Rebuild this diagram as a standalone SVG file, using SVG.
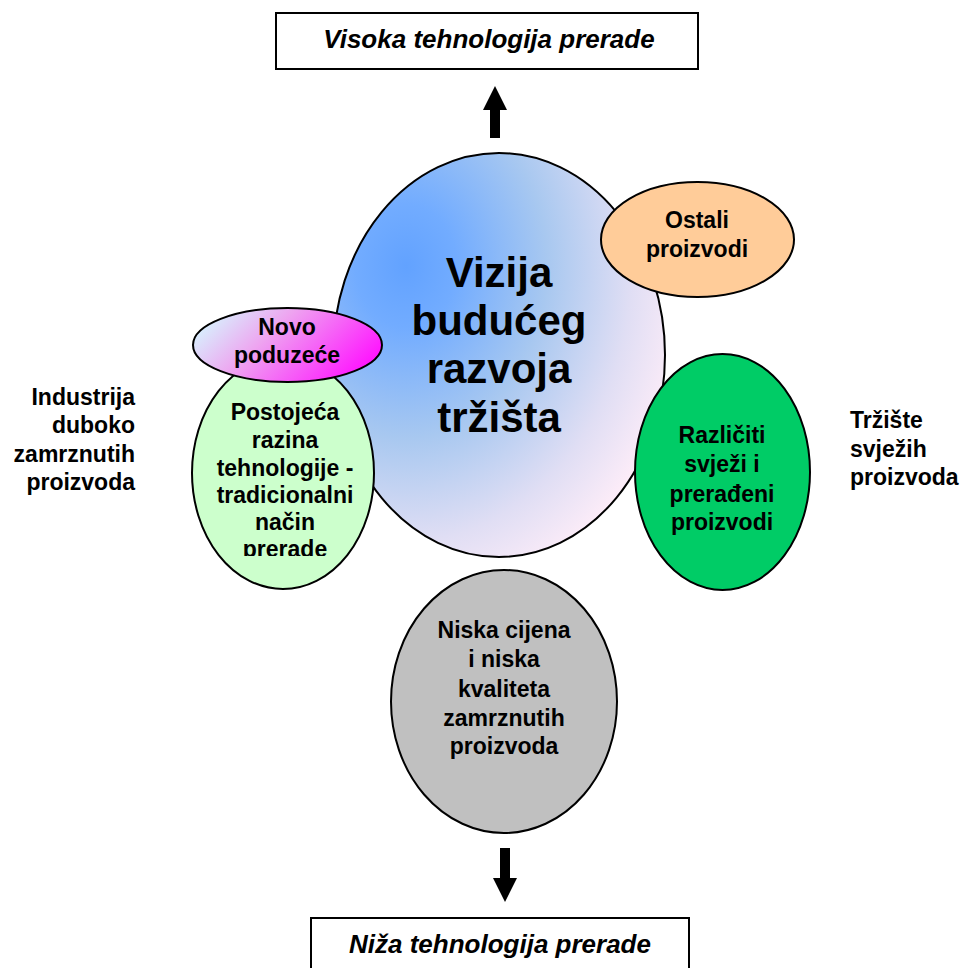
<svg xmlns="http://www.w3.org/2000/svg" width="966" height="968" viewBox="0 0 966 968">
<style>
.t{font-family:"Liberation Sans",Arial,sans-serif;font-weight:bold;font-size:23px;fill:#000;text-anchor:middle}
.big{font-size:42px}
.box{font-size:26px;font-style:italic}
.l{text-anchor:start}
.r{text-anchor:end}
.sh{stroke:#000;stroke-width:2}
</style>
<defs>
<radialGradient id="gC" cx="0.22" cy="0.28" r="0.85" fx="0.22" fy="0.28">
<stop offset="0" stop-color="#62a2ff"/>
<stop offset="0.18" stop-color="#72acff"/>
<stop offset="0.5" stop-color="#a8c8f0"/>
<stop offset="0.8" stop-color="#e0def4"/>
<stop offset="1" stop-color="#fcecf8"/>
</radialGradient>
<linearGradient id="gN" x1="0" y1="0.2" x2="1" y2="0.6">
<stop offset="0" stop-color="#d4fbff"/>
<stop offset="0.4" stop-color="#eea4f0"/>
<stop offset="1" stop-color="#ff14ff"/>
</linearGradient>
<clipPath id="cP"><rect x="190" y="380" width="190" height="176"/></clipPath>
</defs>
<g id="top-box">
<rect x="276" y="13" width="422" height="56" fill="#fff" class="sh"/>
<text class="t box" x="489" y="48">Visoka tehnologija prerade</text>
</g>
<g id="bottom-box">
<rect x="311" y="918" width="378" height="60" fill="#fff" class="sh"/>
<text class="t box" x="500" y="953">Niža tehnologija prerade</text>
</g>
<g id="connectors">
<polygon points="495,86 507,110 500,110 500,138 490,138 490,110 483,110" fill="#000"/>
<polygon points="505,902 517,878 510,878 510,848 500,848 500,878 493,878" fill="#000"/>
</g>
<g id="vizija">
<ellipse cx="499" cy="355" rx="166" ry="202" fill="url(#gC)" class="sh"/>
<text class="t big" x="499" y="287">Vizija</text>
<text class="t big" x="499" y="335">budućeg</text>
<text class="t big" x="499" y="383">razvoja</text>
<text class="t big" x="499" y="432">tržišta</text>
</g>
<g id="postojeca">
<ellipse cx="283" cy="473" rx="91" ry="116" fill="#ccffcc" class="sh"/>
<g clip-path="url(#cP)">
<text class="t" x="285" y="420">Postojeća</text>
<text class="t" x="285" y="448">razina</text>
<text class="t" x="285" y="476">tehnologije -</text>
<text class="t" x="285" y="503">tradicionalni</text>
<text class="t" x="285" y="530">način</text>
<text class="t" x="285" y="557">prerade</text>
</g>
</g>
<g id="novo">
<ellipse cx="287.5" cy="345" rx="94.5" ry="37" fill="url(#gN)" class="sh"/>
<text class="t" x="287" y="335">Novo</text>
<text class="t" x="287" y="363">poduzeće</text>
</g>
<g id="ostali">
<ellipse cx="697.5" cy="239.5" rx="96.5" ry="57.5" fill="#ffcc99" class="sh"/>
<text class="t" x="697" y="228">Ostali</text>
<text class="t" x="697" y="257">proizvodi</text>
</g>
<g id="razliciti">
<ellipse cx="722.5" cy="472" rx="87.5" ry="118" fill="#00cc66" class="sh"/>
<text class="t" x="722" y="443">Različiti</text>
<text class="t" x="722" y="472">svježi i</text>
<text class="t" x="722" y="502">prerađeni</text>
<text class="t" x="722" y="530">proizvodi</text>
</g>
<g id="niska">
<ellipse cx="504" cy="701.5" rx="113" ry="131.5" fill="#c0c0c0" class="sh"/>
<text class="t" x="504" y="638">Niska cijena</text>
<text class="t" x="504" y="667">i niska</text>
<text class="t" x="504" y="697">kvaliteta</text>
<text class="t" x="504" y="726">zamrznutih</text>
<text class="t" x="504" y="754">proizvoda</text>
</g>
<g id="label-left">
<text class="t r" x="135" y="405">Industrija</text>
<text class="t r" x="135" y="433">duboko</text>
<text class="t r" x="135" y="462">zamrznutih</text>
<text class="t r" x="135" y="490">proizvoda</text>
</g>
<g id="label-right">
<text class="t l" x="850" y="428">Tržište</text>
<text class="t l" x="850" y="457">svježih</text>
<text class="t l" x="850" y="485">proizvoda</text>
</g>
</svg>
